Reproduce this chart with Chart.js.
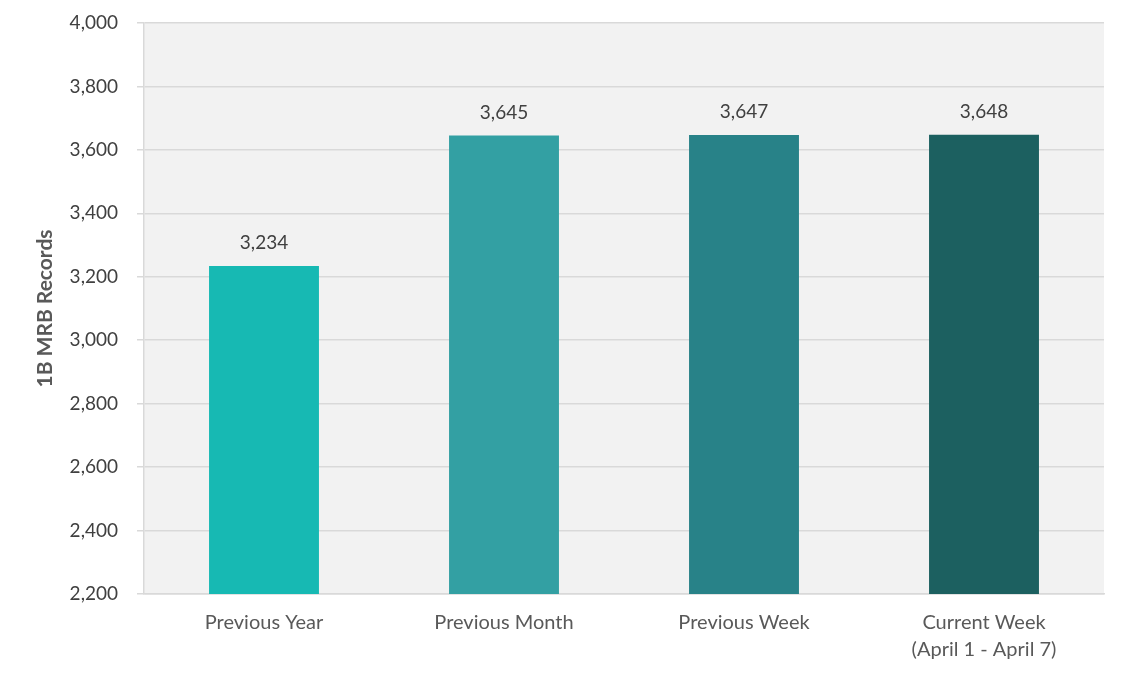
<!DOCTYPE html>
<html>
<head>
<meta charset="utf-8">
<script src="https://cdn.jsdelivr.net/npm/chart.js@4/dist/chart.umd.min.js"></script>
<style>
html,body{margin:0;padding:0;background:#fff;}
#wrap{width:1127px;height:677px;position:relative;}
</style>
</head>
<body>
<div id="wrap"><canvas id="c" width="1127" height="677"></canvas></div>
<script>
const categories = ["Previous Year", "Previous Month", "Previous Week", ["Current Week", "(April 1 - April 7)"]];
const values = [3234, 3645, 3647, 3648];
const barColors = ["#17b9b3", "#33a0a3", "#288288", "#1c6060"];
const yMin = 2200, yMax = 4000, yStep = 200;
const yTitle = "1B MRB Records";

const FONT = "Lato, 'Noto Sans', sans-serif";

const bgPlugin = {
  id: 'plotBg',
  beforeDraw(chart) {
    const {ctx, chartArea: a} = chart;
    ctx.save();
    ctx.fillStyle = '#f2f2f2';
    ctx.fillRect(a.left, a.top, a.right - a.left, a.bottom - a.top);
    ctx.restore();
  }
};
const labelPlugin = {
  id: 'valLabels',
  afterDatasetsDraw(chart) {
    const {ctx} = chart;
    const meta = chart.getDatasetMeta(0);
    ctx.save();
    ctx.font = "19px " + FONT;
    ctx.fillStyle = '#404040';
    ctx.textAlign = 'center';
    ctx.textBaseline = 'middle';
    meta.data.forEach((bar, i) => {
      ctx.fillText(values[i].toLocaleString('en-US'), bar.x, bar.y - 23);
    });
    ctx.restore();
  }
};

new Chart(document.getElementById('c'), {
  type: 'bar',
  data: {
    labels: categories,
    datasets: [{
      data: values,
      backgroundColor: barColors,
      borderWidth: 0,
      barPercentage: 0.458,
      categoryPercentage: 1
    }]
  },
  options: {
    responsive: false,
    animation: false,
    layout: {padding: {left: 33, right: 23, top: 23, bottom: 0}},
    plugins: {legend: {display: false}, tooltip: {enabled: false}},
    scales: {
      x: {
        grid: {display: false, drawTicks: false},
        border: {display: true, color: '#d9d9d9', width: 1.5},
        ticks: {color: '#595959', font: {family: FONT, size: 20, lineHeight: 1.35}, padding: 15, maxRotation: 0, autoSkip: false},
        afterFit(s) { s.height = 677 - 594; s.paddingLeft = 0; s.paddingRight = 0; }
      },
      y: {
        min: yMin, max: yMax,
        grid: {color: '#d9d9d9', lineWidth: 1.5, tickLength: 7, tickColor: '#d9d9d9'},
        border: {display: true, color: '#d9d9d9', width: 1.5},
        ticks: {stepSize: yStep, color: '#404040', font: {family: FONT, size: 19}, padding: 19,
          callback: v => v.toLocaleString('en-US')},
        title: {display: true, text: yTitle, color: '#595959', font: {family: FONT, size: 21, weight: 'bold'}, padding: {top: 0, bottom: 0}},
        afterFit(s) { s.width = 144 - 33; s.paddingTop = 0; s.paddingBottom = 0; }
      }
    }
  },
  plugins: [bgPlugin, labelPlugin]
});
</script>
</body>
</html>
